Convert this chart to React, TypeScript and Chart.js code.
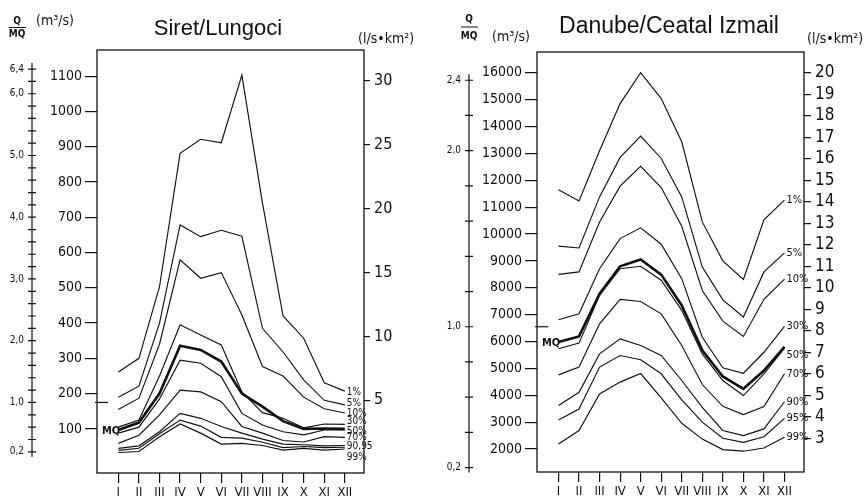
import React, { useEffect, useRef } from 'react';
import { Chart, registerables } from 'chart.js';

Chart.register(...registerables);

// ---------- shared ----------
const MONTHS = ['I', 'II', 'III', 'IV', 'V', 'VI', 'VII', 'VIII', 'IX', 'X', 'XI', 'XII'];
const MONTH_NUMS = [1, 2, 3, 4, 5, 6, 7, 8, 9, 10, 11, 12];

// ---------- Siret / Lungoci (m³/s) ----------
const SIRET_P1 = [261, 300, 503, 881, 921, 911, 1103, 740, 420, 357, 231, 207];
const SIRET_P5 = [190, 221, 400, 678, 645, 663, 646, 385, 318, 239, 181, 168];
const SIRET_P10 = [155, 187, 340, 579, 527, 543, 423, 277, 250, 190, 157, 145];
const SIRET_P30 = [105, 125, 250, 395, 366, 338, 205, 146, 130, 103, 114, 113];
const SIRET_MEAN = [97, 118, 200, 336, 324, 291, 200, 163, 122, 100, 101, 100];
const SIRET_P50 = [88, 105, 185, 295, 286, 248, 144, 111, 92, 83, 97, 97];
const SIRET_P70 = [59, 82, 140, 210, 205, 177, 107, 88, 67, 63, 78, 76];
const SIRET_P90 = [45, 52, 92, 144, 130, 107, 88, 71, 57, 55, 52, 53];
const SIRET_P95 = [39, 45, 86, 125, 108, 76, 74, 62, 47, 50, 47, 48];
const SIRET_P99 = [33, 36, 78, 114, 88, 57, 59, 53, 40, 45, 40, 43];
const SIRET_MQ = 175;
const SIRET_SPEC_FACTOR = 36.2; // m³/s per (l/s·km²)
const SIRET_Y_MIN = -25;
const SIRET_Y_MAX = 1174;
const SIRET_FLOW_TICKS = [100, 200, 300, 400, 500, 600, 700, 800, 900, 1000, 1100];
const SIRET_SPEC_TICKS = [5, 10, 15, 20, 25, 30];
const SIRET_RATIO_TICKS = [0.2, 0.4, 0.6, 0.8, 1.0, 1.2, 1.4, 1.6, 1.8, 2.0, 2.2, 2.4, 2.6, 2.8, 3.0, 3.2, 3.4, 3.6, 3.8, 4.0, 4.2, 4.4, 4.6, 4.8, 5.0, 5.2, 5.4, 5.6, 5.8, 6.0, 6.2, 6.4];
const SIRET_RATIO_LABELS = [0.2, 1.0, 2.0, 3.0, 4.0, 5.0, 6.0, 6.4];

// ---------- Danube / Ceatal Izmail (m³/s) ----------
const DANUBE_P1 = [11650, 11230, 13100, 14850, 16000, 15040, 13430, 10450, 9000, 8310, 10530, 11260];
const DANUBE_P5 = [9550, 9480, 11380, 12850, 13640, 12810, 11380, 8770, 7550, 6910, 8590, 9300];
const DANUBE_P10 = [8500, 8590, 10450, 11780, 12520, 11730, 10290, 7900, 6760, 6190, 7570, 8320];
const DANUBE_P30 = [6810, 7030, 8710, 9830, 10230, 9620, 8340, 6160, 5020, 4820, 5600, 6560];
const DANUBE_MEAN = [5980, 6190, 7780, 8800, 9050, 8490, 7340, 5670, 4700, 4240, 4920, 5800];
const DANUBE_P50 = [5730, 5940, 7720, 8710, 8800, 8280, 7160, 5540, 4550, 3990, 4800, 5750];
const DANUBE_P70 = [4760, 5050, 6660, 7570, 7490, 7030, 5850, 4400, 3590, 3280, 3580, 4800];
const DANUBE_P90 = [3620, 4110, 5540, 6100, 5850, 5480, 4550, 3550, 2690, 2500, 2750, 3760];
const DANUBE_P95 = [3080, 3490, 5050, 5480, 5320, 4800, 3830, 3000, 2400, 2250, 2460, 3140];
const DANUBE_P99 = [2190, 2690, 4050, 4490, 4810, 3900, 2960, 2370, 1980, 1920, 2040, 2440];
const DANUBE_MQ = 6550;
const DANUBE_SPEC_FACTOR = 800; // m³/s per (l/s·km²)
const DANUBE_Y_MIN = 1146;
const DANUBE_Y_MAX = 16771;
const DANUBE_FLOW_TICKS = [2000, 3000, 4000, 5000, 6000, 7000, 8000, 9000, 10000, 11000, 12000, 13000, 14000, 15000, 16000];
const DANUBE_SPEC_TICKS = [3, 4, 5, 6, 7, 8, 9, 10, 11, 12, 13, 14, 15, 16, 17, 18, 19, 20];
const DANUBE_RATIO_TICKS = [0.2, 0.4, 0.6, 0.8, 1.0, 1.2, 1.4, 1.6, 1.8, 2.0, 2.2, 2.4];
const DANUBE_RATIO_LABELS = [0.2, 1.0, 2.0, 2.4];

const NARROW = "'Liberation Sans Narrow', 'DejaVu Sans Condensed', 'Arial Narrow', sans-serif";
const SANS = "'Liberation Sans', Arial, sans-serif";
const INK = '#111';

type SeriesDef = { name: string; values: number[]; thick?: boolean };
type LabelDef = { series: number; text: string; dy: number };

const SIRET = {
  left: 0,
  width: 435,
  top: 50,
  qW: 32,
  flowW: 65,
  specW: 71,
  xH: 27,
  xMin: -0.035,
  xMax: 12.93,
  yMin: SIRET_Y_MIN,
  yMax: SIRET_Y_MAX,
  mq: SIRET_MQ,
  factor: SIRET_SPEC_FACTOR,
  flowTicks: SIRET_FLOW_TICKS,
  specTicks: SIRET_SPEC_TICKS,
  ratioTicks: SIRET_RATIO_TICKS,
  ratioLabels: SIRET_RATIO_LABELS,
  specFont: 16,
  specTick: 6,
  series: [
    { name: '1%', values: SIRET_P1 },
    { name: '5%', values: SIRET_P5 },
    { name: '10%', values: SIRET_P10 },
    { name: '30%', values: SIRET_P30 },
    { name: 'MQ', values: SIRET_MEAN, thick: true },
    { name: '50%', values: SIRET_P50 },
    { name: '70%', values: SIRET_P70 },
    { name: '90%', values: SIRET_P90 },
    { name: '95%', values: SIRET_P95 },
    { name: '99%', values: SIRET_P99 },
  ] as SeriesDef[],
  labels: [
    { series: 0, text: '1%', dy: 1 },
    { series: 1, text: '5%', dy: -2 },
    { series: 2, text: '10%', dy: 0 },
    { series: 3, text: '30%', dy: -3 },
    { series: 5, text: '50%', dy: 1 },
    { series: 6, text: '70%', dy: 0 },
    { series: 7, text: '90,95', dy: 1 },
    { series: 9, text: '99%', dy: 8 },
  ] as LabelDef[],
  labelFont: 10,
  mqTextDy: 29,
  title: 'Siret/Lungoci',
  titleSize: 22,
  titleX: 218,
  titleY: 35,
  qHead: { x: 17, qY: 21, barY: 27.5, mqY: 34, unitX: 36, unitY: 21 },
  specHead: { x: 358, y: 39 },
};

const DANUBE = {
  left: 435,
  width: 432,
  top: 52,
  qW: 34,
  flowW: 68,
  specW: 63,
  xH: 28,
  xMin: -0.045,
  xMax: 12.95,
  yMin: DANUBE_Y_MIN,
  yMax: DANUBE_Y_MAX,
  mq: DANUBE_MQ,
  factor: DANUBE_SPEC_FACTOR,
  flowTicks: DANUBE_FLOW_TICKS,
  specTicks: DANUBE_SPEC_TICKS,
  ratioTicks: DANUBE_RATIO_TICKS,
  ratioLabels: DANUBE_RATIO_LABELS,
  specFont: 17,
  specTick: 7,
  series: [
    { name: '1%', values: DANUBE_P1 },
    { name: '5%', values: DANUBE_P5 },
    { name: '10%', values: DANUBE_P10 },
    { name: '30%', values: DANUBE_P30 },
    { name: 'MQ', values: DANUBE_MEAN, thick: true },
    { name: '50%', values: DANUBE_P50 },
    { name: '70%', values: DANUBE_P70 },
    { name: '90%', values: DANUBE_P90 },
    { name: '95%', values: DANUBE_P95 },
    { name: '99%', values: DANUBE_P99 },
  ] as SeriesDef[],
  labels: [
    { series: 0, text: '1%', dy: 0 },
    { series: 1, text: '5%', dy: 0 },
    { series: 2, text: '10%', dy: 0 },
    { series: 3, text: '30%', dy: 0 },
    { series: 5, text: '50%', dy: 7 },
    { series: 6, text: '70%', dy: 0 },
    { series: 7, text: '90%', dy: 0 },
    { series: 8, text: '95%', dy: 0 },
    { series: 9, text: '99%', dy: 0 },
  ] as LabelDef[],
  labelFont: 11,
  mqTextDy: 16,
  title: 'Danube/Ceatal Izmail',
  titleSize: 23,
  titleX: 234,
  titleY: 33,
  qHead: { x: 34, qY: 19, barY: 27, mqY: 36, unitX: 57, unitY: 37 },
  specHead: { x: 372, y: 39 },
};

type PanelCfg = typeof SIRET;

const fmtRatio = (v: number) => v.toFixed(1).replace('.', ',');

function makeDecor(cfg: PanelCfg) {
  return {
    id: 'decor',
    afterDraw(chart: any) {
      const { ctx, chartArea: ca } = chart;
      ctx.save();
      ctx.strokeStyle = INK;
      ctx.fillStyle = INK;

      // frame
      ctx.lineWidth = 1.3;
      ctx.strokeRect(ca.left, ca.top, ca.right - ca.left, ca.bottom - ca.top);

      // Q/MQ axis (line with crossing ticks)
      const q = chart.scales.yQ;
      const qx = q.right;
      const first = cfg.ratioTicks[0];
      const last = cfg.ratioTicks[cfg.ratioTicks.length - 1];
      ctx.lineWidth = 1.2;
      ctx.beginPath();
      ctx.moveTo(qx, q.getPixelForValue(last) - 6);
      ctx.lineTo(qx, q.getPixelForValue(first) + 5);
      cfg.ratioTicks.forEach((v) => {
        const py = q.getPixelForValue(v);
        ctx.moveTo(qx - 4, py);
        ctx.lineTo(qx + 4, py);
      });
      ctx.stroke();

      // MQ mark
      const y = chart.scales.y;
      const mqY = y.getPixelForValue(cfg.mq);
      ctx.lineWidth = 1.2;
      ctx.beginPath();
      ctx.moveTo(ca.left - 2, mqY);
      ctx.lineTo(ca.left + 11, mqY);
      ctx.stroke();
      ctx.font = `bold 11px ${NARROW}`;
      ctx.textAlign = 'left';
      ctx.textBaseline = 'middle';
      ctx.fillText('MQ', ca.left + 5, mqY + cfg.mqTextDy);

      // series labels at the December end of each line
      ctx.font = `${cfg.labelFont}px ${NARROW}`;
      cfg.labels.forEach((l) => {
        const meta = chart.getDatasetMeta(l.series);
        const pt = meta.data[meta.data.length - 1];
        ctx.fillText(l.text, pt.x + 2, pt.y + l.dy);
      });

      // title
      ctx.font = `${cfg.titleSize}px ${SANS}`;
      ctx.textAlign = 'center';
      ctx.textBaseline = 'alphabetic';
      ctx.fillText(cfg.title, cfg.titleX, cfg.titleY);

      // Q/MQ header
      const h = cfg.qHead;
      ctx.font = `bold 10px ${NARROW}`;
      ctx.textBaseline = 'middle';
      ctx.fillText('Q', h.x, h.qY);
      ctx.fillText('MQ', h.x, h.mqY);
      ctx.lineWidth = 1;
      ctx.beginPath();
      ctx.moveTo(h.x - 8, h.barY);
      ctx.lineTo(h.x + 9, h.barY);
      ctx.stroke();
      ctx.font = `14px ${NARROW}`;
      ctx.textAlign = 'left';
      ctx.fillText('(m³/s)', h.unitX, h.unitY);
      ctx.fillText('(l/s•km²)', cfg.specHead.x, cfg.specHead.y);

      ctx.restore();
    },
  };
}

function Panel({ cfg }: { cfg: PanelCfg }) {
  const ref = useRef<HTMLCanvasElement>(null);

  useEffect(() => {
    const canvas = ref.current;
    if (!canvas) return;
    const datasets = cfg.series.map((s) => ({
      label: s.name,
      data: MONTH_NUMS.map((m, i) => ({ x: m, y: s.values[i] })),
      borderColor: INK,
      borderWidth: s.thick ? 2.6 : 1.15,
      pointRadius: 0,
      tension: 0,
      fill: false,
      xAxisID: 'x',
      yAxisID: 'y',
    }));

    const chart = new Chart(canvas, {
      type: 'line',
      data: { datasets },
      options: {
        responsive: false,
        animation: false,
        devicePixelRatio: 1,
        layout: { padding: { top: cfg.top, left: 0, right: 0, bottom: 0 }, autoPadding: false },
        plugins: { legend: { display: false }, tooltip: { enabled: false }, title: { display: false } },
        scales: {
          x: {
            type: 'linear',
            position: 'bottom',
            min: cfg.xMin,
            max: cfg.xMax,
            afterBuildTicks: (s: any) => {
              s.ticks = MONTH_NUMS.map((v) => ({ value: v }));
            },
            afterFit: (s: any) => {
              s.height = cfg.xH;
            },
            ticks: {
              autoSkip: false,
              maxRotation: 0,
              padding: 2,
              color: INK,
              font: { family: NARROW, size: 13 },
              callback: (v: any) => MONTHS[Number(v) - 1] ?? '',
            },
            grid: { display: true, drawOnChartArea: false, drawTicks: true, tickLength: 10, color: INK, lineWidth: 1.2 },
            border: { display: false },
          },
          y: {
            type: 'linear',
            position: 'left',
            weight: 0,
            min: cfg.yMin,
            max: cfg.yMax,
            afterBuildTicks: (s: any) => {
              s.ticks = cfg.flowTicks.map((v) => ({ value: v }));
            },
            afterFit: (s: any) => {
              s.width = cfg.flowW;
            },
            ticks: {
              autoSkip: false,
              padding: 3,
              color: INK,
              font: { family: NARROW, size: 14 },
              callback: (v: any) => String(v),
            },
            grid: { display: true, drawOnChartArea: false, drawTicks: true, tickLength: 12, color: INK, lineWidth: 1.2 },
            border: { display: false },
          },
          yQ: {
            type: 'linear',
            position: 'left',
            weight: 10,
            min: cfg.yMin / cfg.mq,
            max: cfg.yMax / cfg.mq,
            afterBuildTicks: (s: any) => {
              s.ticks = cfg.ratioTicks.map((v) => ({ value: v }));
            },
            afterFit: (s: any) => {
              s.width = cfg.qW;
            },
            ticks: {
              autoSkip: false,
              padding: 8,
              color: INK,
              font: { family: NARROW, size: 10 },
              callback: (v: any) => {
                const n = Number(v);
                return cfg.ratioLabels.some((l) => Math.abs(l - n) < 1e-6) ? fmtRatio(n) : '';
              },
            },
            grid: { display: false, drawTicks: false },
            border: { display: false },
          },
          yS: {
            type: 'linear',
            position: 'right',
            min: cfg.yMin / cfg.factor,
            max: cfg.yMax / cfg.factor,
            afterBuildTicks: (s: any) => {
              s.ticks = cfg.specTicks.map((v) => ({ value: v }));
            },
            afterFit: (s: any) => {
              s.width = cfg.specW;
            },
            ticks: {
              autoSkip: false,
              padding: 4,
              color: INK,
              font: { family: NARROW, size: cfg.specFont },
              callback: (v: any) => String(v),
            },
            grid: { display: true, drawOnChartArea: false, drawTicks: true, tickLength: cfg.specTick, color: INK, lineWidth: 1.2 },
            border: { display: false },
          },
        },
      },
      plugins: [makeDecor(cfg)],
    } as any);

    return () => chart.destroy();
  }, [cfg]);

  return (
    <canvas
      ref={ref}
      width={cfg.width}
      height={500}
      style={{ position: 'absolute', left: cfg.left, top: 0, width: cfg.width, height: 500, display: 'block' }}
    />
  );
}

export default function App() {
  return (
    <div style={{ position: 'absolute', left: 0, top: 0, width: 867, height: 500, background: '#fff', overflow: 'hidden' }}>
      <Panel cfg={SIRET} />
      <Panel cfg={DANUBE} />
    </div>
  );
}
